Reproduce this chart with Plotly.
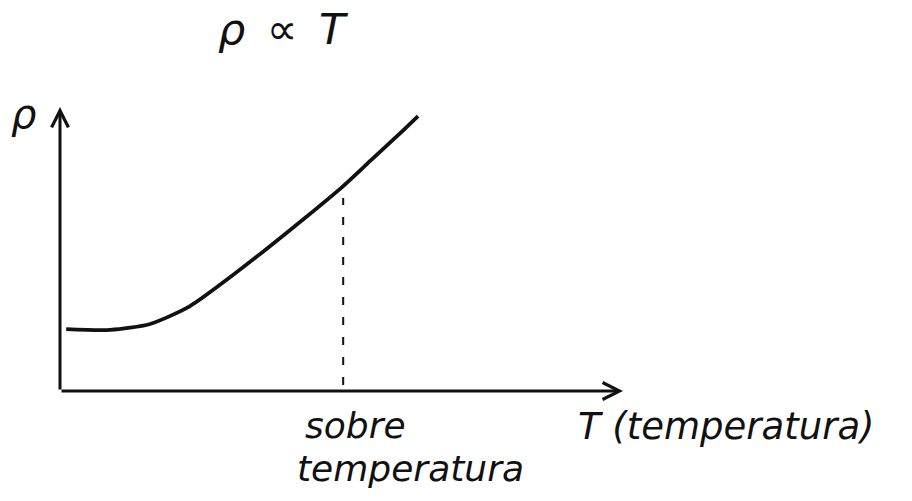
import plotly.graph_objects as go

# Resistivity vs temperature sketch (axes run 0..10 in both directions)
T_vals = [0.11, 0.89, 1.60, 2.31, 2.93, 3.64, 4.35, 5.01, 5.51, 5.99, 6.36]
rho_vals = [2.18, 2.15, 2.36, 2.99, 3.87, 4.96, 6.09, 7.18, 8.10, 8.98, 9.68]

# Vertical dashed marker at the "sobre temperatura" point
T_marker = 5.03
rho_marker = [0.21, 6.8]

# Axis extents (arrow tips)
T_axis_end = 10
rho_axis_end = 10

W, H = 912, 501
ink = "#111111"
hand_font = "DejaVu Sans"

fig = go.Figure()

fig.add_trace(go.Scatter(
    x=T_vals, y=rho_vals, mode="lines",
    line=dict(color=ink, width=3.8, shape="spline", smoothing=0.7),
    hoverinfo="skip", showlegend=False,
))

fig.add_trace(go.Scatter(
    x=[T_marker, T_marker], y=rho_marker, mode="lines",
    line=dict(color=ink, width=2, dash="8px,12px"),
    hoverinfo="skip", showlegend=False,
))

# Axes drawn as arrows from the origin
for (tx, ty) in [(T_axis_end, 0), (0, rho_axis_end)]:
    fig.add_annotation(
        x=tx, y=ty, ax=0, ay=0, xref="x", yref="y", axref="x", ayref="y",
        text="", showarrow=True, arrowhead=5, arrowsize=1.1, arrowwidth=3,
        arrowcolor=ink, standoff=0, startstandoff=0,
    )


def px(x):
    return x / W


def py(y):
    return 1 - y / H


texts = [
    ("ρ\u2002∝\u2002T", 283, 44, 43, "center"),
    ("ρ", 23, 128, 40, "center"),
    ("T (temperatura)", 576, 440, 37, "left"),
    ("sobre", 303, 438, 36, "left"),
    ("temperatura", 295, 481, 36, "left"),
]
for txt, x, y, size, anchor in texts:
    fig.add_annotation(
        x=px(x), y=py(y), xref="paper", yref="paper",
        text=txt, showarrow=False, xanchor=anchor, yanchor="bottom",
        font=dict(family=hand_font, size=size, color=ink, style="italic"),
        yshift=-size * 0.28,
    )

fig.update_layout(
    width=W, height=H,
    margin=dict(l=0, r=0, t=0, b=0),
    paper_bgcolor="white", plot_bgcolor="white",
    xaxis=dict(domain=[60 / W, 623 / W], range=[0, T_axis_end], visible=False,
               fixedrange=True),
    yaxis=dict(domain=[(H - 391) / H, (H - 107) / H], range=[0, rho_axis_end],
               visible=False, fixedrange=True),
)

fig.write_html("out.html")
